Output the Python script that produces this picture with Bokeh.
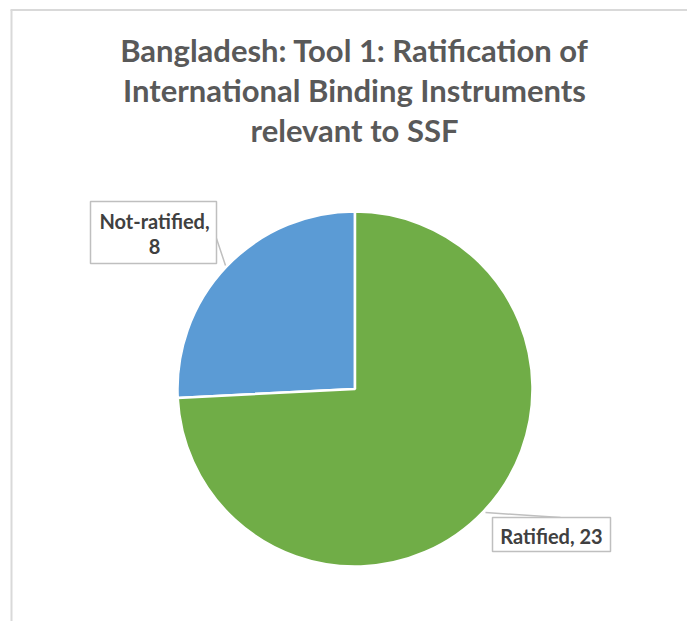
import math
from bokeh.plotting import figure
from bokeh.models import Range1d, ColumnDataSource
from bokeh.core.properties import value
from bokeh.embed import file_html
from bokeh.resources import INLINE

# ---- data ----
title_lines = ["Bangladesh: Tool 1: Ratification of",
               "International Binding Instruments",
               "relevant to SSF"]
categories = ["Not-ratified", "Ratified"]
counts = [8, 23]
colors = ["#5B9BD5", "#70AD47"]

W, H = 687, 621
p = figure(width=W, height=H, output_backend="svg", toolbar_location=None,
           x_range=Range1d(0, W), y_range=Range1d(0, H), min_border=0)
p.axis.visible = False
p.grid.visible = False
p.outline_line_color = None
p.background_fill_color = "white"
p.border_fill_color = "white"

def Y(y):
    return H - y

# frame lines (cropped chart border)
p.segment(x0=[10, 11], y0=[Y(9.5), Y(9.5)], x1=[W, 11], y1=[Y(9.5), 0],
          line_color="#D9D9D9", line_width=2)

# pie
cx, cy, r = 354.5, Y(388.5), 177.5
total = sum(counts)
starts, ends = [], []
a = math.pi / 2
for c in counts:
    starts.append(a)
    a += 2 * math.pi * c / total
    ends.append(a)
src = ColumnDataSource(dict(start=starts, end=ends, color=colors))
p.wedge(x=cx, y=cy, radius=r, radius_units="screen", start_angle="start",
        end_angle="end", direction="anticlock", fill_color="color",
        line_color="white", line_width=2.5, source=src)

# title
for i, t in enumerate(title_lines):
    p.text(x=[354], y=[Y(49 + i * 40)], text=[t], text_font=value("Lato"),
           text_font_style="bold", text_font_size="31px", text_color="#595959",
           text_align="center", text_baseline="middle")

# leader lines
p.line(x=[216, 225], y=[Y(238), Y(265)], line_color="#BFBFBF", line_width=1.5)
p.line(x=[485, 560], y=[Y(512), Y(517)], line_color="#BFBFBF", line_width=1.5)

# label boxes
p.quad(left=[90, 492], right=[216, 610], top=[Y(201), Y(517)],
       bottom=[Y(263), Y(551)], fill_color="white", line_color="#BFBFBF",
       line_width=1.5)

lab1 = [f"{categories[0]},", f"{counts[0]}"]
p.text(x=[154, 154], y=[Y(220), Y(246)], text=lab1, text_font=value("Lato"),
       text_font_style="bold", text_font_size="20px", text_color="#404040",
       text_align="center", text_baseline="middle")
p.text(x=[551], y=[Y(535)], text=[f"{categories[1]}, {counts[1]}"],
       text_font=value("Lato"), text_font_style="bold", text_font_size="20px",
       text_color="#404040", text_align="center", text_baseline="middle")

open("out.html", "w").write(file_html(p, INLINE))
